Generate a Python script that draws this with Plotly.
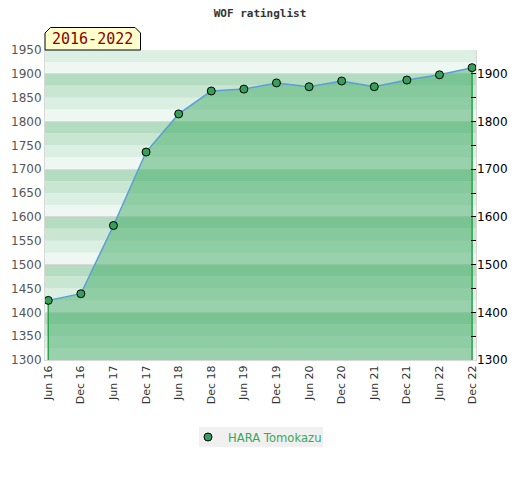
import plotly.graph_objects as go

# rating history, one value every half year
PERIODS = ["Jun 16", "Dec 16", "Jun 17", "Dec 17", "Jun 18", "Dec 18", "Jun 19",
           "Dec 19", "Jun 20", "Dec 20", "Jun 21", "Dec 21", "Jun 22", "Dec 22"]
RATINGS = [1425, 1439, 1582, 1736, 1816, 1864, 1868,
           1881, 1873, 1885, 1873, 1887, 1898, 1913]
PLAYER = "HARA Tomokazu"
SPAN_LABEL = "2016-2022"
TITLE = "WOF ratinglist"

Y_MIN, Y_MAX = 1300, 1950

W, H = 520, 480
M_L, M_R, M_T, M_B = 45, 44, 50, 120
PLOT_W = W - M_L - M_R
PLOT_H = H - M_T - M_B

BAND_COLORS = ["#eef7f1", "#dcefe3", "#c8e6d1", "#b3dcc0"]
GREEN = "#35a05a"


def px(x, y):
    # pixel position -> paper coordinates
    return (x - M_L) / PLOT_W, (H - M_B - y) / PLOT_H


def band_shapes():
    shapes = []
    v = Y_MIN
    i = 0
    while v < Y_MAX:
        shapes.append(dict(type="rect", xref="paper", yref="y", x0=0, x1=1, y0=v, y1=v + 25,
                           fillcolor=BAND_COLORS[i % 4], line_width=0, layer="below"))
        v += 25
        i += 1
    return shapes


def label_box():
    pts = [px(45, 50), px(45, 33), px(50.5, 27.5), px(135, 27.5), px(140.5, 33), px(140.5, 50)]
    path = "M " + " L ".join(f"{a:.4f},{b:.4f}" for a, b in pts) + " Z"
    return dict(type="path", xref="paper", yref="paper", path=path,
                fillcolor="#ffffcc", line=dict(color="black", width=1), layer="above")


def legend_box():
    x0, y0 = px(199, 447)
    x1, y1 = px(323, 427)
    return dict(type="rect", xref="paper", yref="paper", x0=x0, x1=x1, y0=y0, y1=y1,
                fillcolor="#f0f0f0", line_width=0, layer="below")


fig = go.Figure()

fig.add_trace(go.Scatter(x=PERIODS, y=RATINGS, mode="lines", fill="tozeroy",
                         fillcolor="rgba(66,171,104,0.5)", line=dict(color="#5b9fd8", width=1.5),
                         showlegend=False, hoverinfo="skip"))
for idx in (0, -1):
    fig.add_trace(go.Scatter(x=[PERIODS[idx], PERIODS[idx]], y=[Y_MIN, RATINGS[idx]], mode="lines",
                             line=dict(color="#2ca24c", width=1.5), showlegend=False, hoverinfo="skip"))
fig.add_trace(go.Scatter(x=PERIODS, y=RATINGS, mode="markers", name=PLAYER,
                         marker=dict(color=GREEN, size=8, line=dict(color="black", width=1))))
# invisible trace just to get the right-hand axis
fig.add_trace(go.Scatter(x=PERIODS, y=RATINGS, yaxis="y2", mode="lines", line=dict(width=0),
                         showlegend=False, hoverinfo="skip"))

lx, ly = px(92, 39.5)
fig.add_annotation(x=lx, y=ly, xref="paper", yref="paper", text=SPAN_LABEL, showarrow=False,
                   xanchor="center", yanchor="middle",
                   font=dict(family="DejaVu Sans Mono", size=15, color="#8b0000"))

leg_x, leg_y = px(188, 437)

fig.update_layout(
    width=W, height=H,
    margin=dict(l=M_L, r=M_R, t=M_T, b=M_B, autoexpand=False),
    paper_bgcolor="white", plot_bgcolor="white",
    title=dict(text=f"<b>{TITLE}</b>", x=0.5, xanchor="center", y=1 - 13 / H, yanchor="middle",
               font=dict(family="DejaVu Sans Mono", size=11, color="#333")),
    font=dict(family="DejaVu Sans", size=12, color="#444"),
    shapes=band_shapes() + [label_box(), legend_box()],
    xaxis=dict(type="category", range=[-0.1, len(PERIODS) - 0.88], tickangle=-90,
               showgrid=False, showline=True, linecolor="#d8d8d8", ticks="", automargin=False,
               tickfont=dict(size=11, color="#333")),
    yaxis=dict(range=[Y_MIN, Y_MAX], dtick=50, showgrid=False, zeroline=False, automargin=False,
               showline=True, linecolor="#d8d8d8", mirror=True, ticks="",
               tickfont=dict(size=12, color="#555")),
    yaxis2=dict(range=[Y_MIN, Y_MAX], overlaying="y", side="right", dtick=100,
                showgrid=True, gridcolor="#dadada", zeroline=False, automargin=False,
                ticks="inside", ticklen=5, tickcolor="black",
                minor=dict(dtick=50, ticks="inside", ticklen=5, tickcolor="black"),
                tickfont=dict(size=12, color="black")),
    legend=dict(orientation="h", x=leg_x, xanchor="left", y=leg_y, yanchor="middle",
                bgcolor="rgba(0,0,0,0)", font=dict(size=11.6, color="#3aa85a")),
)

# page has a default 8px body margin, drop it so the figure sits at the corner
fig.write_html("out.html", config={"displayModeBar": False},
               post_script="document.body.style.margin='0';")
